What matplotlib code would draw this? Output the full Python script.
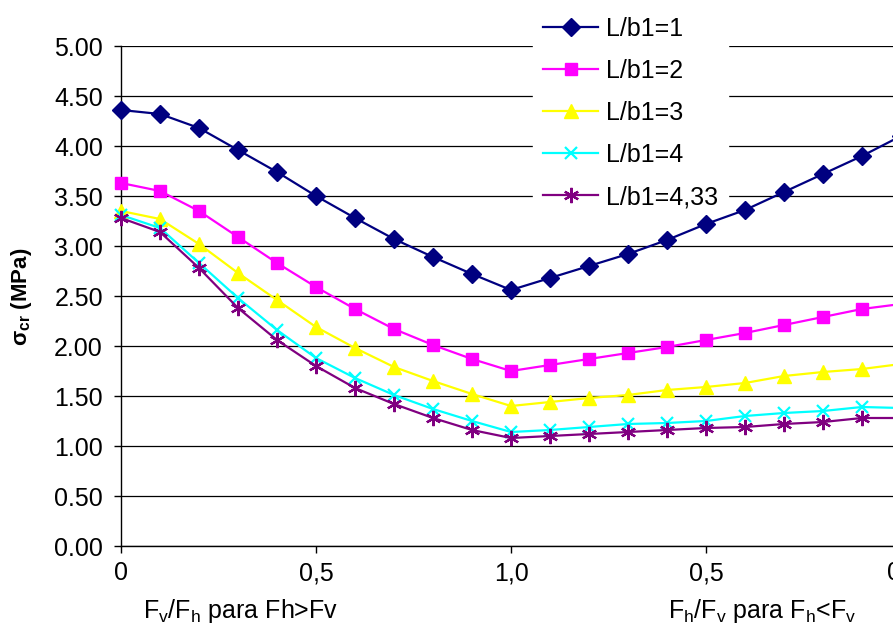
import matplotlib
matplotlib.use('Agg')
import matplotlib.pyplot as plt
from matplotlib.ticker import FormatStrFormatter

plt.rcParams['font.family'] = ['Liberation Sans', 'DejaVu Sans']
plt.rcParams['mathtext.default'] = 'regular'

# ── Data ──────────────────────────────────────────────────────────
steps = list(range(21))          # 0 .. 1,0 .. 0 in steps of 0,1
xtick_pos    = [0, 5, 10, 15, 20]
xtick_labels = ['0', '0,5', '1,0', '0,5', '0']

lb1    = [4.36, 4.32, 4.18, 3.96, 3.74, 3.50, 3.28, 3.07, 2.89, 2.72, 2.56,
          2.68, 2.80, 2.92, 3.06, 3.22, 3.36, 3.54, 3.72, 3.90, 4.10]
lb2    = [3.63, 3.55, 3.35, 3.09, 2.83, 2.59, 2.37, 2.17, 2.01, 1.87, 1.75,
          1.81, 1.87, 1.93, 1.99, 2.06, 2.13, 2.21, 2.29, 2.37, 2.42]
lb3    = [3.35, 3.27, 3.02, 2.73, 2.46, 2.19, 1.98, 1.79, 1.65, 1.52, 1.40,
          1.44, 1.48, 1.51, 1.56, 1.59, 1.63, 1.70, 1.74, 1.77, 1.82]
lb4    = [3.31, 3.18, 2.83, 2.48, 2.16, 1.88, 1.68, 1.51, 1.37, 1.25, 1.14,
          1.16, 1.19, 1.22, 1.23, 1.25, 1.30, 1.33, 1.35, 1.39, 1.38]
lb433  = [3.28, 3.14, 2.78, 2.38, 2.06, 1.80, 1.58, 1.42, 1.28, 1.16, 1.08,
          1.10, 1.12, 1.14, 1.16, 1.18, 1.19, 1.22, 1.24, 1.28, 1.28]

series = [
    ('L/b1=1',    lb1,   '#000080', 'D',       9),
    ('L/b1=2',    lb2,   '#FF00FF', 's',       9),
    ('L/b1=3',    lb3,   '#FFFF00', '^',       10),
    ('L/b1=4',    lb4,   '#00FFFF', 'x',       9),
    ('L/b1=4,33', lb433, '#800080', (6, 2, 0), 11),
]

# ── Plot ──────────────────────────────────────────────────────────
fig = plt.figure(figsize=(8.93, 6.26), dpi=100)
ax = fig.add_axes([121/893, 80/626, 780/893, 500/626])

for name, vals, col, mk, ms in series:
    ax.plot(steps, vals, color=col, lw=1.6, marker=mk, ms=ms,
            mew=1.6 if mk in ('x', (6, 2, 0)) else 1, mfc=col, mec=col,
            label=name, clip_on=False, zorder=3)

ax.set_xlim(0, 20)
ax.set_ylim(0, 5)
ax.set_yticks([i * 0.5 for i in range(11)])
ax.yaxis.set_major_formatter(FormatStrFormatter('%.2f'))
ax.set_xticks(xtick_pos)
ax.set_xticklabels(xtick_labels)
ax.get_xticklabels()[-1].set_horizontalalignment('right')
ax.yaxis.grid(True, color='black', lw=0.9)
ax.set_axisbelow(True)

for s in ('top', 'right'):
    ax.spines[s].set_visible(False)
for s in ('left', 'bottom'):
    ax.spines[s].set_color('black')
    ax.spines[s].set_linewidth(1.0)

ax.tick_params(axis='y', labelsize=18, length=5, width=1, pad=8)
ax.tick_params(axis='x', labelsize=18, length=5, width=1, pad=6)

ax.set_ylabel(r'$\sigma_{cr}$ (MPa)', fontsize=16, fontweight='bold')
ax.yaxis.set_label_coords(-(121 - 34) / 780, 0.5 - (297 - 296) / 500)

fig.text(143/893, 1 - 611/626, r'F$_v$/F$_h$ para Fh>Fv', fontsize=18,
         va='center', ha='left')
fig.text(668/893, 1 - 611/626, r'F$_h$/F$_v$ para F$_h$<F$_v$', fontsize=18,
         va='center', ha='left')

# legend sits above the gridlines but under the data lines
leg = ax.legend(loc='upper left', bbox_to_anchor=(533/893, 1 - 7/626),
                bbox_transform=fig.transFigure,
                borderaxespad=0, fontsize=18, frameon=True, fancybox=False,
                handlelength=2.2, handletextpad=0.3, labelspacing=0.72,
                borderpad=0.4)
leg.get_frame().set_facecolor('white')
leg.get_frame().set_edgecolor('white')
leg.get_frame().set_alpha(1)
leg.set_zorder(2.5)

fig.savefig('out.png', dpi=100)
